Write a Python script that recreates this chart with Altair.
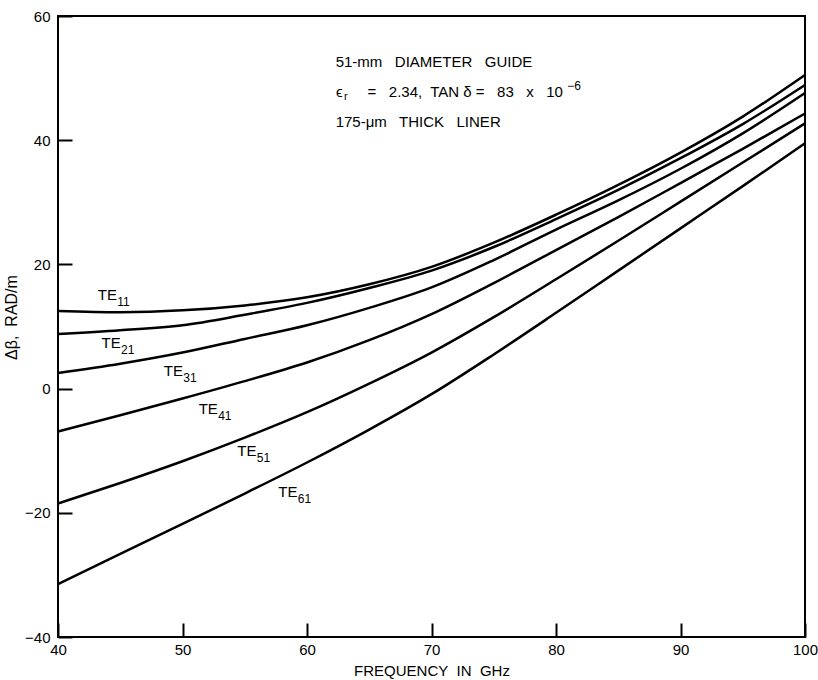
import altair as alt
import pandas as pd

FONT = "Liberation Sans"

freq = [40, 45, 50, 55, 60, 65, 70, 75, 80, 85, 90, 95, 100]
te11 = [12.5, 12.3, 12.6, 13.4, 14.7, 16.8, 19.6, 23.5, 28.0, 32.8, 38.0, 43.8, 50.5]
te21 = [8.8, 9.4, 10.2, 11.9, 13.8, 16.2, 19.0, 22.8, 27.3, 32.0, 37.1, 42.6, 48.9]
te31 = [2.5, 4.0, 5.8, 8.0, 10.2, 13.0, 16.3, 20.7, 25.6, 30.3, 35.4, 41.1, 47.6]
te41 = [-6.9, -4.3, -1.6, 1.2, 4.2, 7.8, 12.0, 17.0, 22.3, 27.6, 33.1, 38.6, 44.3]
te51 = [-18.5, -15.2, -11.7, -7.9, -3.8, 0.8, 5.8, 11.5, 17.6, 23.8, 30.1, 36.4, 42.7]
te61 = [-31.5, -26.6, -21.8, -16.9, -11.9, -6.6, -0.9, 5.5, 12.2, 19.0, 25.8, 32.6, 39.5]

modes = ["11", "21", "31", "41", "51", "61"]
series = [te11, te21, te31, te41, te51, te61]

label_x = [43.2, 43.5, 48.5, 51.3, 54.4, 57.7]
label_y = [15.1, 7.3, 2.8, -3.3, -10.0, -16.7]

# annotation block: plain lines (left aligned)
note_lines = [
    "51-mm\u00a0\u00a0 DIAMETER\u00a0\u00a0 GUIDE",
    "175-\u03bcm\u00a0\u00a0 THICK\u00a0\u00a0 LINER",
]
note_x = [62.3, 62.3]
note_y = [52.6, 42.9]

# second line, in pieces: epsilon, subscript r, body (right aligned), superscript
eps_text, eps_x, eps_y = "\u03f5", 62.33, 47.8
sub_text, sub_x = "r", 62.97
body_text, body_x = "=\u00a0\u00a0 2.34,\u00a0 TAN \u03b4 =\u00a0\u00a0 83\u00a0\u00a0 x\u00a0\u00a0 10", 80.56
sup_text, sup_x = "\u22126", 80.9

x_ticks = [40, 50, 60, 70, 80, 90, 100]
y_ticks = [-40, -20, 0, 20, 40, 60]

rows = []
for m, vals in zip(modes, series):
    for f, v in zip(freq, vals):
        rows.append({"freq": f, "dbeta": v, "mode": "TE" + m})
df = pd.DataFrame(rows)

lab_df = pd.DataFrame({"freq": label_x, "dbeta": label_y, "sub": modes, "main": ["TE"] * 6})
note_df = pd.DataFrame({"freq": note_x, "dbeta": note_y, "t": note_lines})
l2_main = pd.DataFrame({"freq": [eps_x], "dbeta": [eps_y], "t": [eps_text]})
l2_body = pd.DataFrame({"freq": [body_x], "dbeta": [eps_y], "t": [body_text]})
l2_sub = pd.DataFrame({"freq": [sub_x], "dbeta": [eps_y], "t": [sub_text]})
l2_sup = pd.DataFrame({"freq": [sup_x], "dbeta": [eps_y], "t": [sup_text]})

xscale = alt.Scale(domain=[40, 100], nice=False, zero=False)
yscale = alt.Scale(domain=[-40, 60], nice=False, zero=False)

xaxis = alt.Axis(
    values=x_ticks, offset=-14, tickSize=14, tickWidth=2, tickColor="black",
    domain=False, grid=False, labelPadding=5, labelFontSize=15, labelFont=FONT,
    labelColor="black", labelFlush=False, labelBaseline="top",
    title="FREQUENCY\u00a0 IN\u00a0 GHz", titleFont=FONT, titleFontSize=15,
    titleFontWeight="normal", titleColor="black", titlePadding=6,
)
yaxis = alt.Axis(
    values=y_ticks, offset=-14, tickSize=14, tickWidth=2, tickColor="black",
    domain=False, grid=False, labelPadding=8, labelFontSize=15, labelFont=FONT,
    labelColor="black", labelFlush=False,
    title="\u0394\u03b2,\u00a0 RAD/m", titleFont=FONT, titleFontSize=16,
    titleFontWeight="normal", titleColor="black", titlePadding=5,
    titleY=301,
)


def enc(ch):
    return ch.encode(
        x=alt.X("freq:Q", scale=xscale),
        y=alt.Y("dbeta:Q", scale=yscale),
    )


lines = alt.Chart(df).mark_line(color="black", strokeWidth=2.5, interpolate="monotone").encode(
    x=alt.X("freq:Q", scale=xscale, axis=xaxis),
    y=alt.Y("dbeta:Q", scale=yscale, axis=yaxis),
    detail="mode:N",
)

main_lab = alt.Chart(lab_df).mark_text(
    align="left", baseline="middle", fontSize=15, font=FONT, color="black"
).encode(x=alt.X("freq:Q", scale=xscale), y=alt.Y("dbeta:Q", scale=yscale), text="main:N")

sub_lab = alt.Chart(lab_df).mark_text(
    align="left", baseline="middle", fontSize=12, font=FONT, color="black", dx=19.5, dy=7
).encode(x=alt.X("freq:Q", scale=xscale), y=alt.Y("dbeta:Q", scale=yscale), text="sub:N")

notes = alt.Chart(note_df).mark_text(
    align="left", baseline="middle", fontSize=15, font=FONT, color="black"
).encode(x=alt.X("freq:Q", scale=xscale), y=alt.Y("dbeta:Q", scale=yscale), text="t:N")

eps = alt.Chart(l2_main).mark_text(
    align="left", baseline="middle", fontSize=15, font=FONT, color="black"
).encode(x=alt.X("freq:Q", scale=xscale), y=alt.Y("dbeta:Q", scale=yscale), text="t:N")

body = alt.Chart(l2_body).mark_text(
    align="right", baseline="middle", fontSize=15, font=FONT, color="black"
).encode(x=alt.X("freq:Q", scale=xscale), y=alt.Y("dbeta:Q", scale=yscale), text="t:N")

sub_r = alt.Chart(l2_sub).mark_text(
    align="left", baseline="middle", fontSize=11, font=FONT, color="black", dy=5
).encode(x=alt.X("freq:Q", scale=xscale), y=alt.Y("dbeta:Q", scale=yscale), text="t:N")

sup = alt.Chart(l2_sup).mark_text(
    align="left", baseline="middle", fontSize=12, font=FONT, color="black", dy=-6
).encode(x=alt.X("freq:Q", scale=xscale), y=alt.Y("dbeta:Q", scale=yscale), text="t:N")

chart = alt.layer(lines, main_lab, sub_lab, notes, eps, body, sub_r, sup).properties(
    width=747, height=621,
    autosize=alt.AutoSizeParams(type="none"),
    padding={"left": 58, "top": 16, "right": 13, "bottom": 43},
    background="white",
).configure_view(stroke="black", strokeWidth=2)

chart.save("out.html", embed_options={"renderer": "svg", "actions": False})
